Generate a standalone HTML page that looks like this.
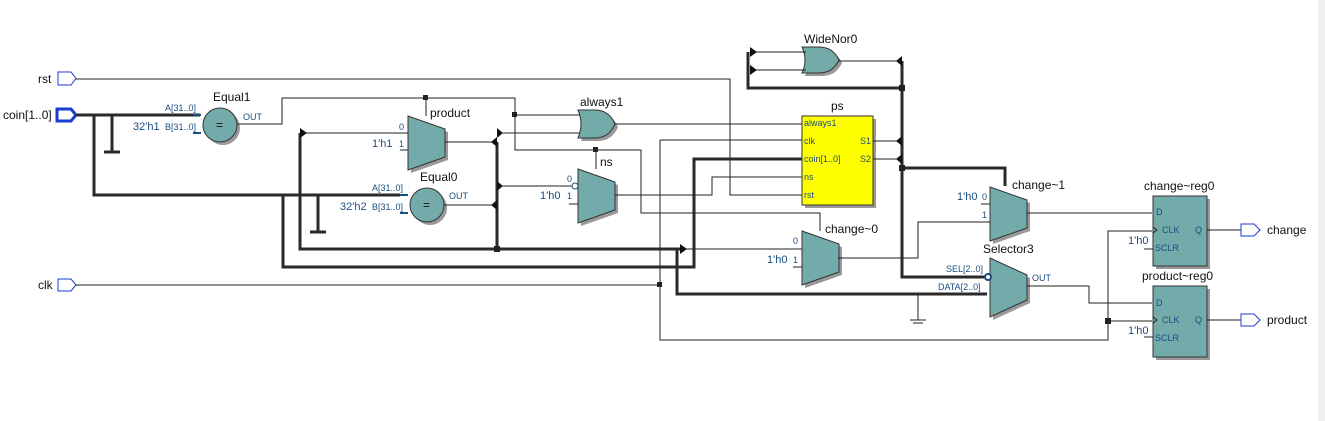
<!DOCTYPE html>
<html><head><style>
body{margin:0;background:#fff}
svg{display:block;font-family:"Liberation Sans",sans-serif}
.w{stroke:#222;stroke-width:1;fill:none}
.b{stroke:#2a2a2a;stroke-width:3;fill:none}
.g{fill:#73abab;stroke:#333;stroke-width:1}
.s{fill:#999}
.t{font-size:12px;fill:#111}
.p{font-size:9px;fill:#1a4d80}
.v{font-size:11px;fill:#1a4d80}
</style></head><body>
<svg width="1325" height="421" viewBox="0 0 1325 421">
<rect x="1318" y="0" width="7" height="421" fill="#f0f0f0"/>
<path d="M58,72h13l5,6.5l-5,6.5h-13z" fill="#fff" stroke="#1a3bd6"/>
<text x="38" y="83" class="t">rst</text>
<path d="M57,109h14l5,6l-5,6h-14z" fill="#fff" stroke="#1a3bd6" stroke-width="3"/>
<text x="3" y="119" class="t">coin[1..0]</text>
<path d="M58,279h13l5,6l-5,6h-13z" fill="#fff" stroke="#1a3bd6"/>
<text x="38" y="289" class="t">clk</text>
<path class="w" d="M76,79H730V195H802"/>
<path class="b" d="M76,115H200M94,115V195H400M112,115V152M104,152h16M283,195V267H694V159H802"/>
<path class="b" d="M318,195V232M310,232h16"/>
<path d="M193,133h8M400,213h8M193,115h8M400,195h8" stroke="#1a4d80" stroke-width="2"/>
<circle cx="223" cy="128" r="17" class="s"/><circle cx="220" cy="125" r="17" class="g"/>
<text x="216" y="129" class="t">=</text>
<text x="213" y="101" class="t">Equal1</text>
<text x="165" y="111" class="p">A[31..0]</text>
<text x="133" y="130" class="v">32'h1</text><text x="165" y="130" class="p">B[31..0]</text>
<text x="243" y="120" class="p">OUT</text>
<path class="w" d="M237,124H282V98H515V150H641V213H820V231M426,98V116M515,115H582M596,150V169"/>
<rect x="423" y="95" width="5" height="5" fill="#222"/><rect x="512" y="112" width="5" height="5" fill="#222"/><rect x="593" y="147" width="5" height="5" fill="#222"/>
<circle cx="430" cy="208" r="17" class="s"/><circle cx="427" cy="205" r="17" class="g"/>
<text x="423" y="209" class="t">=</text>
<text x="420" y="181" class="t">Equal0</text>
<text x="372" y="191" class="p">A[31..0]</text>
<text x="340" y="210" class="v">32'h2</text><text x="372" y="210" class="p">B[31..0]</text>
<text x="449" y="199" class="p">OUT</text>
<path class="w" d="M444,205H497"/>
<path d="M411,119l37,13v28l-37,13z" class="s"/><path d="M408,116l37,13v28l-37,13z" class="g"/>
<text x="430" y="117" class="t">product</text>
<text x="399" y="130" class="p">0</text><text x="372" y="147" class="v">1'h1</text><text x="399" y="147" class="p">1</text>
<path class="w" d="M303,133H408M445,142H497M400,150h8"/>
<path class="b" d="M300,133V249H680M497,142V249"/>
<path class="w" d="M680,249H802"/>
<path d="M300,128l7,5l-7,5z M497,137l-6,5l6,5z M497,200l-6,5l6,5z M497,128l6,5l-6,5z M497,181l6,5l-6,5z M680,244l7,5l-7,5z" fill="#111"/>
<rect x="494" y="246" width="6" height="6" fill="#222"/>
<path class="w" d="M500,133H582M500,186H576"/>
<path d="M581,113h17q14,0 20,14q-6,14 -20,14h-17q6,-14 0,-28z" class="s"/>
<path d="M578,110h17q14,0 20,14q-6,14 -20,14h-17q6,-14 0,-28z" class="g"/>
<text x="580" y="106" class="t">always1</text>
<path class="w" d="M615,124H802"/>
<path d="M581,172l37,13v28l-37,13z" class="s"/><path d="M578,169l37,13v28l-37,13z" class="g"/>
<circle cx="575" cy="186" r="3" fill="#fff" stroke="#1a4d80"/>
<text x="600" y="166" class="t">ns</text>
<text x="567" y="182" class="p">0</text><text x="540" y="199" class="v">1'h0</text><text x="567" y="199" class="p">1</text>
<path class="w" d="M569,204h9M615,195H712V177H802"/>
<rect x="805" y="119" width="71" height="89" class="s"/>
<rect x="802" y="116" width="71" height="89" fill="#ffff00" stroke="#333"/>
<text x="831" y="110" class="t">ps</text>
<g class="p"><text x="804" y="126">always1</text><text x="804" y="144">clk</text><text x="804" y="162">coin[1..0]</text><text x="804" y="180">ns</text><text x="804" y="198">rst</text><text x="860" y="144">S1</text><text x="860" y="162">S2</text></g>
<path class="w" d="M873,141H902M873,159H902"/>
<path class="w" d="M76,285H660M660,140H802M660,140V340H1108V231H1152M1108,321H1152"/>
<rect x="657" y="282" width="5" height="5" fill="#222"/><rect x="1105" y="318" width="6" height="6" fill="#222"/>
<path d="M805,50h17q14,0 20,13q-6,13 -20,13h-17q6,-13 0,-26z" class="s"/>
<path d="M802,47h17q14,0 20,13q-6,13 -20,13h-17q6,-13 0,-26z" class="g"/>
<text x="804" y="43" class="t">WideNor0</text>
<path class="w" d="M752,52H806M752,70H806M838,61H902"/>
<path class="b" d="M748,52V88H902M902,61V277H987M902,168H1005V186"/>
<path d="M750,47l7,5l-7,5z M750,65l7,5l-7,5z M902,56l-6,5l6,5z M902,136l-6,5l6,5z M902,154l-6,5l6,5z" fill="#111"/>
<rect x="899" y="85" width="6" height="6" fill="#222"/><rect x="899" y="165" width="6" height="6" fill="#222"/>
<path d="M805,234l37,13v28l-37,13z" class="s"/><path d="M802,231l37,13v28l-37,13z" class="g"/>
<text x="825" y="233" class="t">change~0</text>
<text x="793" y="244" class="p">0</text><text x="767" y="263" class="v">1'h0</text><text x="793" y="263" class="p">1</text>
<path class="w" d="M793,267h9M838,258H918V222H990"/>
<path class="b" d="M677,249V294H987"/>
<path class="w" d="M918,294V320M910,320h16M913,323h10"/>
<path d="M993,190l37,13v28l-37,13z" class="s"/><path d="M990,187l37,13v28l-37,13z" class="g"/>
<text x="1012" y="189" class="t">change~1</text>
<text x="957" y="200" class="v">1'h0</text><text x="982" y="200" class="p">0</text><text x="982" y="218" class="p">1</text>
<path class="w" d="M981,204h9M1027,213H1152"/>
<path d="M993,261l37,17v25l-37,17z" class="s"/><path d="M990,258l37,17v25l-37,17z" class="g"/>
<text x="983" y="253" class="t">Selector3</text>
<text x="946" y="272" class="p">SEL[2..0]</text><text x="938" y="290" class="p">DATA[2..0]</text>
<text x="1032" y="281" class="p">OUT</text>
<circle cx="988" cy="277" r="3" fill="#fff" stroke="#1a4d80" stroke-width="2"/>
<path class="w" d="M1027,286H1089V303H1152"/>
<rect x="1156" y="199" width="54" height="70" class="s"/><rect x="1153" y="196" width="54" height="70" class="g"/>
<text x="1144" y="190" class="t">change~reg0</text>
<g class="p"><text x="1156" y="215">D</text><text x="1162" y="233">CLK</text><text x="1155" y="251">SCLR</text><text x="1195" y="233">Q</text></g>
<text x="1128" y="244" class="v">1'h0</text>
<path class="w" d="M1144,249h9M1153,227l4,3l-4,3M1207,230H1241"/>
<rect x="1156" y="289" width="54" height="71" class="s"/><rect x="1153" y="286" width="54" height="71" class="g"/>
<text x="1142" y="280" class="t">product~reg0</text>
<g class="p"><text x="1156" y="306">D</text><text x="1162" y="323">CLK</text><text x="1155" y="341">SCLR</text><text x="1195" y="323">Q</text></g>
<text x="1128" y="334" class="v">1'h0</text>
<path class="w" d="M1144,337h9M1153,317l4,3l-4,3M1207,320H1241"/>
<path d="M1241,224h13l6,6l-6,6h-13z" fill="#fff" stroke="#1a3bd6"/>
<text x="1267" y="234" class="t">change</text>
<path d="M1241,314h13l6,6l-6,6h-13z" fill="#fff" stroke="#1a3bd6"/>
<text x="1267" y="324" class="t">product</text>
</svg>
</body></html>
